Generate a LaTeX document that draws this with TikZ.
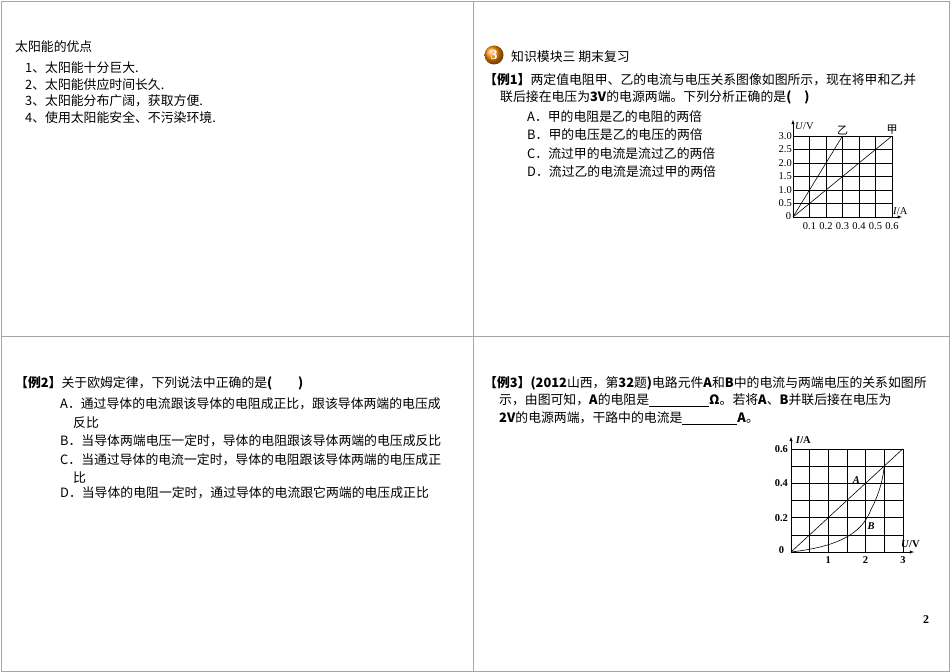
\documentclass[tikz,border=0pt]{standalone}
\usepackage{fontspec}
\setmainfont{Liberation Serif}
\newfontfamily\cjk{Noto Sans CJK SC}
\begin{document}
\begin{tikzpicture}[x=1bp,y=-1bp,
  txt/.style={anchor=west,inner sep=0pt,font=\cjk\fontsize{12.9}{14}\selectfont},
  lab/.style={inner sep=1pt,font=\fontsize{10.5}{11}\selectfont},
  grid/.style={line width=0.5pt},
  curve/.style={line width=0.6pt}]
\useasboundingbox (0,0) rectangle (950,672);
\draw[gray!70,line width=0.6pt] (1,1) rectangle (949,671);
\draw[gray!70,line width=0.6pt] (473,1) -- (473,671) (1,336) -- (949,336);
% Q1
\node[txt] (t1) at (15,47) {太阳能的优点};
\node[txt] (t2) at (25,68) {1、太阳能十分巨大.};
\node[txt] (t3) at (25,85) {2、太阳能供应时间长久.};
\node[txt] (t4) at (25,101) {3、太阳能分布广阔，获取方便.};
\node[txt] (t5) at (25,118) {4、使用太阳能安全、不污染环境.};
% Q2
\shade[ball color=orange!90!yellow] (494,55) circle (9.5);
\node[font=\bfseries\fontsize{14}{14}\selectfont,white,inner sep=0pt] (n3) at (494,55) {3};
\node[txt] (h2) at (511,57) {知识模块三\ 期末复习};
\node[txt] (e1a) at (484,80) {\textbf{【例1】}两定值电阻甲、乙的电流与电压关系图像如图所示，现在将甲和乙并};
\node[txt] (e1b) at (500,97) {联后接在电压为\textbf{3V}的电源两端。下列分析正确的是\textbf{(\quad)}};
\node[txt] (e1A) at (527,117) {A．甲的电阻是乙的电阻的两倍};
\node[txt] (e1B) at (527,135) {B．甲的电压是乙的电压的两倍};
\node[txt] (e1C) at (527,154) {C．流过甲的电流是流过乙的两倍};
\node[txt] (e1D) at (527,172) {D．流过乙的电流是流过甲的两倍};
% graph 1
\begin{scope}[shift={(793,217)},x=165bp,y=27bp]
  \foreach \i in {1,...,6} \draw[grid] (\i/10,0) -- (\i/10,3);
  \foreach \j in {1,...,6} \draw[grid] (0,\j/2) -- (0.6,\j/2);
  \draw[grid,-latex] (0,0) -- (0,3.6);
  \draw[grid,-latex] (0,0) -- (0.66,0);
  \coordinate (o1) at (0,0);
  \coordinate (yi) at (0.3,3);
  \coordinate (jia) at (0.6,3);
  \draw[curve] (o1) -- (yi);
  \draw[curve] (o1) -- (jia);
  \node[lab,anchor=east] (z1) at (-0.005,0.05) {0};
  \foreach \v in {0.5,1.0,1.5,2.0,2.5,3.0} \node[lab,anchor=east] at (0,\v) {\v};
  \foreach \v in {0.1,0.2,0.3,0.4,0.5,0.6} \node[lab,anchor=north] at (\v,-0.15) {\v};
  \node[lab,anchor=west] (uv) at (0.005,3.35) {\textit{U}/V};
  \node[lab,anchor=south] (il) at (0.65,0.05) {\textit{I}/A};
  \node[lab,font=\cjk\fontsize{11}{11}\selectfont,anchor=south] (lyi) at (0.3,3.0) {乙};
  \node[lab,font=\cjk\fontsize{11}{11}\selectfont,anchor=south] (ljia) at (0.6,3.0) {甲};
\end{scope}
% Q3
\node[txt] (e2) at (15,383) {\textbf{【例2】}关于欧姆定律，下列说法中正确的是\textbf{(\qquad)}};
\node[txt] (e2A) at (60,404) {A．通过导体的电流跟该导体的电阻成正比，跟该导体两端的电压成};
\node[txt] (e2A2) at (73,423) {反比};
\node[txt] (e2B) at (60,441) {B．当导体两端电压一定时，导体的电阻跟该导体两端的电压成反比};
\node[txt] (e2C) at (60,460) {C．当通过导体的电流一定时，导体的电阻跟该导体两端的电压成正};
\node[txt] (e2C2) at (73,478) {比};
\node[txt] (e2D) at (60,493) {D．当导体的电阻一定时，通过导体的电流跟它两端的电压成正比};
% Q4
\node[txt] (e3a) at (484,383) {\textbf{【例3】(2012}山西，第\textbf{32}题\textbf{)}电路元件\textbf{A}和\textbf{B}中的电流与两端电压的关系如图所};
\node[txt] (e3b) at (499,400) {示，由图可知，\textbf{A}的电阻是\underline{\hspace{60bp}}\textbf{Ω}。若将\textbf{A}、\textbf{B}并联后接在电压为};
\node[txt] (e3c) at (499,418) {\textbf{2V}的电源两端，干路中的电流是\underline{\hspace{55bp}}\textbf{A}。};
\begin{scope}[shift={(791,552)},x=37.3bp,y=172bp]
  \foreach \i in {1,...,6} \draw[grid] (\i/2,0) -- (\i/2,0.6);
  \foreach \j in {1,...,6} \draw[grid] (0,\j/10) -- (3,\j/10);
  \draw[grid,-latex] (0,0) -- (0,0.67);
  \draw[grid,-latex] (0,0) -- (3.3,0);
  \coordinate (o2) at (0,0);
  \coordinate (ae) at (3,0.6);
  \coordinate (be) at (2.5,0.5);
  \draw[curve] (o2) -- (ae);
  \draw[curve] (o2) .. controls (1.2,0.03) and (1.9,0.1) .. (2.15,0.25) .. controls (2.4,0.35) and (2.48,0.45) .. (be);
  \node[lab,font=\bfseries\fontsize{10.5}{11}\selectfont,anchor=east] (z2) at (-0.15,0.01) {0};
  \foreach \v in {0.2,0.4,0.6} \node[lab,font=\bfseries\fontsize{10.5}{11}\selectfont,anchor=east] at (-0.05,\v) {\v};
  \foreach \v in {1,2,3} \node[lab,font=\bfseries\fontsize{10.5}{11}\selectfont,anchor=north] at (\v,-0.02) {\v};
  \node[lab,font=\bfseries\fontsize{10.5}{11}\selectfont,anchor=west] (ia) at (0.1,0.65) {\textit{I}/A};
  \node[lab,font=\bfseries\fontsize{10.5}{11}\selectfont,anchor=south] (uvb) at (3.2,0.02) {\textit{U}/V};
  \node[lab,font=\bfseries\itshape\fontsize{10.5}{11}\selectfont] (la) at (1.75,0.42) {A};
  \node[lab,font=\bfseries\itshape\fontsize{10.5}{11}\selectfont] (lb) at (2.15,0.15) {B};
\end{scope}
\node[inner sep=0pt,font=\bfseries\fontsize{12}{12}\selectfont] (pg) at (926,620) {2};
\end{tikzpicture}
\end{document}
